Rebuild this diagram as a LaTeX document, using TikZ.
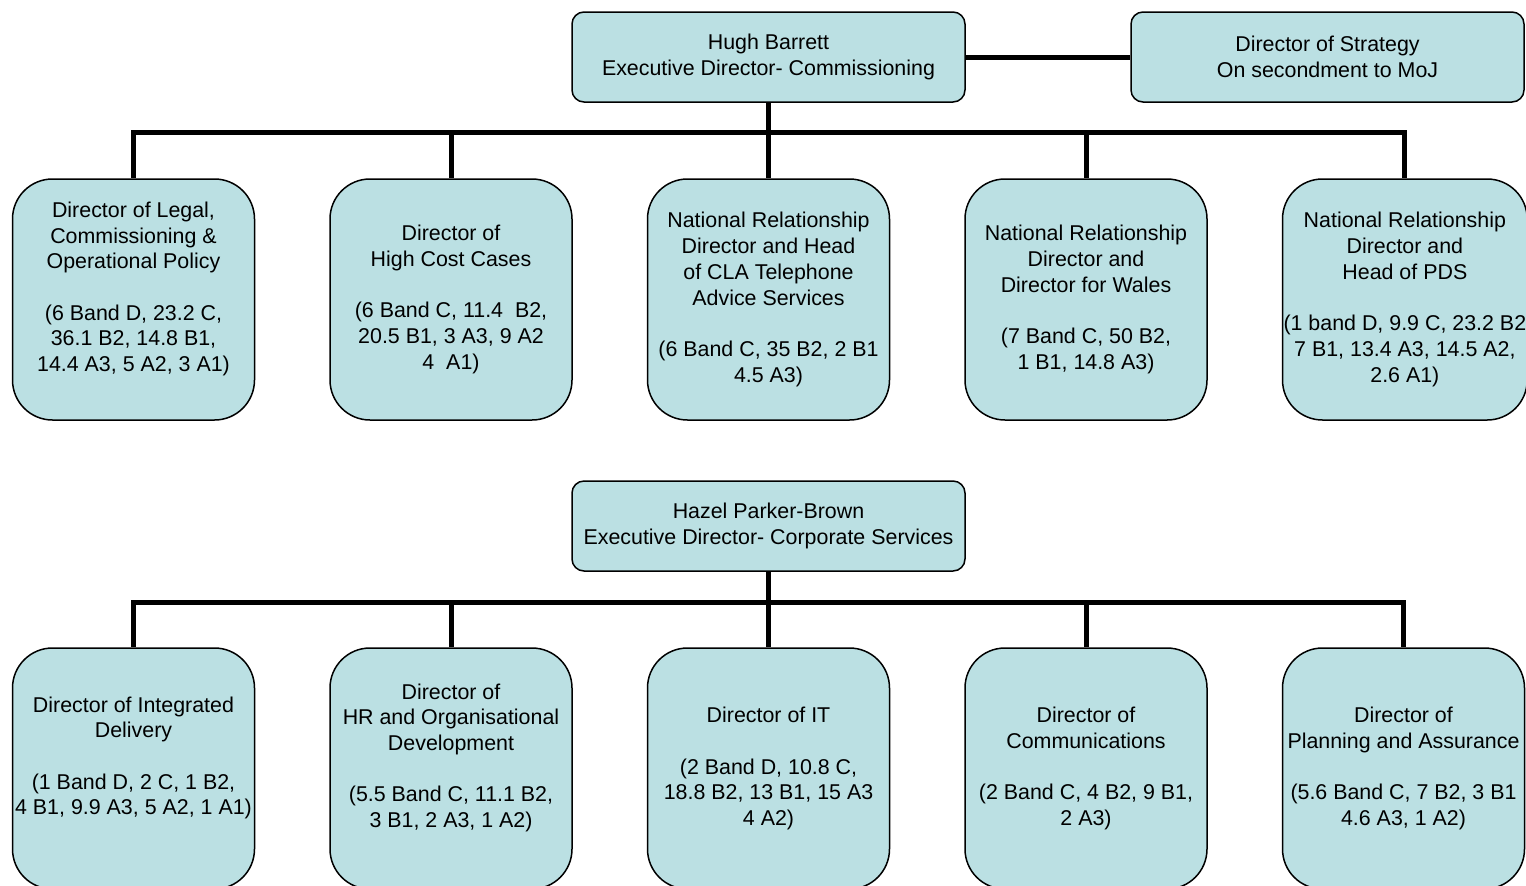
\documentclass[tikz,border=0pt]{standalone}
\usepackage{fontspec}
\setmainfont{Liberation Sans}
\usetikzlibrary{positioning}
\definecolor{boxfill}{RGB}{187,224,227}
\tikzset{
  font=\fontsize{10.7}{12.85}\selectfont,
  head/.style={
    draw,
    fill=boxfill,
    line width=0.75pt,
    rounded corners=6pt,
    align=center,
    minimum width=196.5pt,
    minimum height=45pt,
    inner sep=1pt
  },
  unit/.style={
    draw,
    fill=boxfill,
    line width=0.75pt,
    rounded corners=20pt,
    align=center,
    minimum width=121pt,
    minimum height=120.5pt,
    inner sep=0.5pt
  },
  link/.style={line width=2.5pt}
}

\begin{document}
\begin{tikzpicture}[node distance=37pt]
\useasboundingbox (0,0) rectangle (763pt,-442.5pt);
\clip (0,0) rectangle (763pt,-442.5pt);

% Commissioning: heads
\node[head] (hugh) at (384.25pt,-28.5pt) {Hugh Barrett\\
Executive Director- Commissioning};

\node[head, right=82.25pt of hugh] (strategy) {Director of Strategy\\
On secondment to MoJ};

% Commissioning: directors
\node[unit, below=37.75pt of hugh] (cla) {National Relationship\\
Director and Head\\
of CLA Telephone\\
Advice Services\\[\baselineskip]
(6 Band C, 35 B2, 2 B1\\
4.5 A3)};

\node[unit, left=of cla] (hcc) {Director of\\
High Cost Cases\\[\baselineskip]
(6 Band C, 11.4\ \ B2,\\
20.5 B1, 3 A3, 9 A2\\
4\ \ A1)};

\node[unit, left=of hcc] (legal) {Director of Legal,\\
Commissioning \&\\
Operational Policy\\[\baselineskip]
(6 Band D, 23.2 C,\\
36.1 B2, 14.8 B1,\\
14.4 A3, 5 A2, 3 A1)\\
\mbox{}};

\node[unit, right=of cla] (wales) {National Relationship\\
Director and\\
Director for Wales\\[\baselineskip]
(7 Band C, 50 B2,\\
1 B1, 14.8 A3)};

\node[unit, right=of wales] (pds) {National Relationship\\
Director and\\
Head of PDS\\[\baselineskip]
(1 band D, 9.9 C, 23.2 B2\\
7 B1, 13.4 A3, 14.5 A2,\\
2.6 A1)};

% Corporate Services: head
\node[head, below=29.75pt of cla] (hazel) {Hazel Parker-Brown\\
Executive Director- Corporate Services};

% Corporate Services: directors
\node[unit, below=37.75pt of hazel] (it) {Director of IT\\[\baselineskip]
(2 Band D, 10.8 C,\\
18.8 B2, 13 B1, 15 A3\\
4 A2)};

\node[unit, left=of it] (hr) {Director of\\
HR and Organisational\\
Development\\[\baselineskip]
(5.5 Band C, 11.1 B2,\\
3 B1, 2 A3, 1 A2)\\
\mbox{}};

\node[unit, left=of hr] (delivery) {Director of Integrated\\
Delivery\\[\baselineskip]
(1 Band D, 2 C, 1 B2,\\
4 B1, 9.9 A3, 5 A2, 1 A1)\\
\mbox{}};

\node[unit, right=of it] (comms) {Director of\\
Communications\\[\baselineskip]
(2 Band C, 4 B2, 9 B1,\\
2 A3)};

\node[unit, right=of comms] (planning) {Director of\\
Planning and Assurance\\[\baselineskip]
(5.6 Band C, 7 B2, 3 B1\\
4.6 A3, 1 A2)};

% Edges
\draw[link] (hugh.east) -- (strategy.west);
\draw[link] (hugh.south) -- ++(0,-15pt) -| (legal.north);
\draw[link] (hugh.south) -- ++(0,-15pt) -| (hcc.north);
\draw[link] (hugh.south) -- (cla.north);
\draw[link] (hugh.south) -- ++(0,-15pt) -| (wales.north);
\draw[link] (hugh.south) -- ++(0,-15pt) -| (pds.north);

\draw[link] (hazel.south) -- ++(0,-15.5pt) -| (delivery.north);
\draw[link] (hazel.south) -- ++(0,-15.5pt) -| (hr.north);
\draw[link] (hazel.south) -- (it.north);
\draw[link] (hazel.south) -- ++(0,-15.5pt) -| (comms.north);
\draw[link] (hazel.south) -- ++(0,-15.5pt) -| (planning.north);

\end{tikzpicture}
\end{document}
